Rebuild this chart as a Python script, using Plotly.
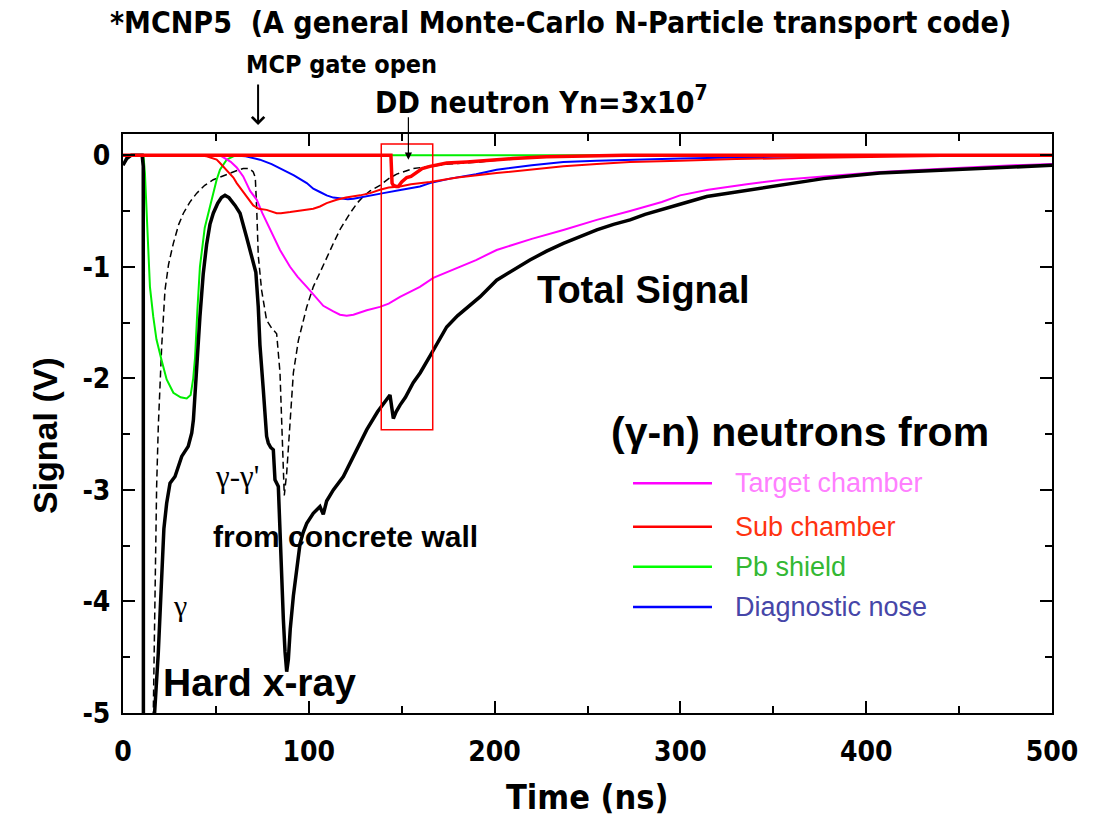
import plotly.graph_objects as go

# ---------------- data (time in ns, signal in V) ----------------
total_t = [0, 2, 4.5, 10.3, 10.9, 11.0, 16.0, 17.0, 19.0, 20.8, 22.0, 23.5, 25.3, 28.0, 31.6, 35.1, 37.0,
           37.9, 38.8, 39.7, 41.4, 43.2, 45.0, 46.8, 48.6, 51.0, 53.0, 54.9, 57.0, 60.3, 63.0, 66.6, 70.1,
           71.5, 72.8, 73.7, 75.5, 76.4, 77.3, 78.2, 79.5, 80.9, 81.8, 83.6, 84.5, 85.4, 86.3, 87.2, 88.1,
           89.0, 90.0, 91.7, 93.5, 95.3, 97.0, 98.9, 102.4, 104.2, 106.0, 107.8, 109.6, 113.2, 118.6,
           122.2, 125.8, 131.2, 137.0, 143.7, 145.5, 147.0, 149.1, 152.0, 156.2, 160.0, 165.2, 170.0,
           174.2, 180.0, 186.0, 192.1, 201.1, 210.0, 219.0, 228.0, 237.0, 246.0, 255.0, 264.0, 272.9,
           281.0, 290.8, 299.8, 314.2, 330.3, 353.6, 376.9, 407.4, 443.3, 479.2, 500.0]
total_v = [-0.09, -0.03, 0.0, 0.0, -0.1, -6.0, -6.0, -5.0, -4.46, -3.72, -3.35, -3.12, -2.94, -2.88, -2.70,
           -2.61, -2.49, -2.37, -2.10, -1.95, -1.45, -1.06, -0.80, -0.62, -0.52, -0.43, -0.38, -0.36, -0.38,
           -0.45, -0.52, -0.74, -0.95, -1.05, -1.36, -1.70, -2.10, -2.37, -2.52, -2.58, -2.62, -2.64, -2.91,
           -2.97, -3.42, -3.92, -4.16, -4.45, -4.63, -4.52, -4.25, -3.95, -3.70, -3.48, -3.38, -3.30, -3.21,
           -3.18, -3.15, -3.22, -3.10, -3.00, -2.88, -2.76, -2.64, -2.46, -2.30, -2.15, -2.36, -2.30, -2.24,
           -2.17, -2.04, -1.95, -1.80, -1.66, -1.54, -1.44, -1.36, -1.27, -1.12, -1.03, -0.94, -0.86, -0.79,
           -0.73, -0.67, -0.62, -0.58, -0.53, -0.48, -0.44, -0.37, -0.33, -0.27, -0.21, -0.16, -0.13, -0.10,
           -0.09]

gamma_t = [0, 11.0, 11.5, 15.3, 16.3, 17.2, 18.1, 19.0, 20.8, 22.6, 24.5, 27.1, 30.0, 32.5, 36.0, 39.7,
           44.0, 48.6, 53.0, 57.6, 61.0, 64.7, 68.0, 70.1, 71.2, 72.0, 72.8, 74.6, 77.3, 80.0, 82.7, 84.5,
           85.4, 86.2, 86.8, 88.1, 89.9, 91.7, 94.4, 98.9, 102.4, 106.0, 108.0, 113.2, 117.0, 122.2, 126.0,
           129.3, 133.0, 138.3, 143.0, 147.3, 156.2, 165.2, 175.0, 192.1, 210.0, 230.0, 260.0, 500.0]
gamma_v = [0, 0, -6.0, -6.0, -5.0, -3.86, -2.97, -2.43, -1.72, -1.21, -0.98, -0.79, -0.62, -0.52, -0.42,
           -0.34, -0.27, -0.22, -0.19, -0.16, -0.14, -0.12, -0.12, -0.15, -0.20, -0.50, -0.90, -1.21, -1.48,
           -1.55, -1.60, -1.95, -2.40, -2.80, -3.05, -2.85, -2.40, -1.95, -1.66, -1.36, -1.18, -1.06, -0.98,
           -0.79, -0.66, -0.52, -0.43, -0.37, -0.32, -0.27, -0.21, -0.17, -0.12, -0.10, -0.08, -0.06, -0.03,
           -0.015, 0, 0]

target_t = [0, 52, 54, 56, 58, 61.2, 64.7, 68.4, 72, 75, 78, 80.9, 84.5, 89.9, 94, 98.9, 103, 107.8,
            113.2, 116.8, 120.4, 124, 131.2, 138.3, 143, 149.1, 155, 159.8, 167, 176, 190, 201.1, 220, 237,
            255, 272.9, 290, 299.8, 315, 335.7, 355, 376.9, 407.4, 443.3, 479.2, 500]
target_v = [0, 0, -0.02, -0.04, -0.06, -0.11, -0.19, -0.32, -0.40, -0.52, -0.62, -0.72, -0.85, -1.00,
            -1.09, -1.18, -1.26, -1.35, -1.40, -1.43, -1.44, -1.43, -1.39, -1.36, -1.33, -1.27, -1.22,
            -1.18, -1.10, -1.04, -0.94, -0.85, -0.75, -0.67, -0.58, -0.50, -0.42, -0.36, -0.31, -0.26,
            -0.22, -0.19, -0.15, -0.12, -0.09, -0.08]

sub_t = [0, 40, 45, 50.4, 52.2, 55.8, 59.4, 61.2, 64, 66.6, 70.1, 73, 77.3, 82.7, 85, 90, 95.3, 98.9,
         102.4, 106, 109.6, 115, 120, 127.6, 133, 138.3, 143, 149.1, 155, 165.2, 180, 201.1, 220, 237,
         255, 272.9, 299.8, 330, 364, 400, 450, 500]
sub_v = [0, 0, -0.01, -0.04, -0.07, -0.14, -0.20, -0.25, -0.31, -0.37, -0.45, -0.48, -0.49, -0.52, -0.52,
         -0.51, -0.50, -0.49, -0.48, -0.46, -0.43, -0.40, -0.38, -0.36, -0.34, -0.31, -0.29, -0.28, -0.26,
         -0.24, -0.20, -0.16, -0.13, -0.10, -0.08, -0.06, -0.05, -0.035, -0.025, -0.015, -0.005, 0]

pb_t = [0, 11, 11.8, 13, 14.5, 16.3, 18, 20.8, 23.5, 27.1, 31, 34.3, 36.4, 37.8, 38.8, 40, 41.4, 44,
        46.8, 50.4, 52.2, 55.8, 59.4, 62, 500]
pb_v = [0, 0, -0.16, -0.60, -1.18, -1.45, -1.65, -1.84, -2.01, -2.13, -2.17, -2.18, -2.15, -2.00, -1.81,
        -1.40, -1.00, -0.65, -0.46, -0.22, -0.13, -0.04, -0.01, 0, 0]

nose_t = [0, 55, 62, 66, 73.7, 80, 86.3, 92, 98.9, 102.4, 106, 109.6, 113.2, 116.8, 121, 124, 127.6, 133,
          140.1, 150, 159.8, 165.2, 176, 190, 201.1, 220, 237, 255, 272.9, 299.8, 350, 400, 450, 500]
nose_v = [0, 0, -0.005, -0.01, -0.04, -0.08, -0.13, -0.18, -0.25, -0.30, -0.33, -0.36, -0.38, -0.39,
          -0.395, -0.39, -0.38, -0.36, -0.34, -0.31, -0.28, -0.25, -0.21, -0.17, -0.13, -0.09, -0.06,
          -0.05, -0.04, -0.03, -0.015, -0.005, 0, 0]

dd_t = [0, 144.2, 144.8, 145.5, 147, 148.2, 150, 152.7, 155, 158, 161, 165.2, 170, 174.2, 185, 192.1,
        200, 210, 228, 255, 270, 500]
dd_v = [0, 0, -0.25, -0.27, -0.28, -0.28, -0.24, -0.20, -0.19, -0.15, -0.12, -0.10, -0.08, -0.07, -0.06,
        -0.05, -0.04, -0.03, -0.015, -0.005, 0, 0]

# DD-neutron time window highlighted on the plot
dd_window_t = [139.0, 166.7]
dd_window_v = [-2.46, 0.10]

legend_names = ["Target chamber", "Sub chamber", "Pb shield", "Diagnostic nose"]
legend_line_colors = ["#ff00ff", "#ff0000", "#00ff00", "#0000ff"]
legend_text_colors = ["#ff80ff", "#ff3310", "#33b833", "#4646a8"]

x_ticks = [0, 100, 200, 300, 400, 500]
y_ticks = [0, -1, -2, -3, -4, -5]

NARROW = "Liberation Sans Narrow, Arial Narrow, DejaVu Sans Condensed, sans-serif"
SANS = "Liberation Sans, Arial, sans-serif"

fig = go.Figure()

fig.add_trace(go.Scatter(x=gamma_t, y=gamma_v, mode="lines",
                         line=dict(color="black", width=1.5, dash="7px,4px"), showlegend=False))
fig.add_trace(go.Scatter(x=pb_t, y=pb_v, mode="lines",
                         line=dict(color="#00ee00", width=2), showlegend=False))
fig.add_trace(go.Scatter(x=nose_t, y=nose_v, mode="lines",
                         line=dict(color="#0000ff", width=2), showlegend=False))
fig.add_trace(go.Scatter(x=target_t, y=target_v, mode="lines",
                         line=dict(color="#ff00ff", width=2), showlegend=False))
fig.add_trace(go.Scatter(x=sub_t, y=sub_v, mode="lines",
                         line=dict(color="#ff0000", width=2), showlegend=False))
fig.add_trace(go.Scatter(x=total_t, y=total_v, mode="lines",
                         line=dict(color="black", width=3.5), showlegend=False))
fig.add_trace(go.Scatter(x=dd_t, y=dd_v, mode="lines",
                         line=dict(color="#ff0000", width=3.5), showlegend=False))

# DD window box
fig.add_shape(type="rect", xref="x", yref="y",
              x0=dd_window_t[0], x1=dd_window_t[1], y0=dd_window_v[0], y1=dd_window_v[1],
              line=dict(color="#ff0000", width=1.5), fillcolor="rgba(0,0,0,0)")

annotations = [
    dict(text="<b>*MCNP5  (A general Monte-Carlo N-Particle transport code)</b>", xref="paper",
         yref="paper", x=0.4704, y=1.1934, showarrow=False,
         font=dict(family=NARROW, size=30, color="black"), xanchor="center", yanchor="middle"),
    dict(text="<b>MCP gate open</b>", xref="paper", yref="paper", x=0.2347, y=1.1192, showarrow=False,
         font=dict(family=NARROW, size=25, color="black"), xanchor="center", yanchor="middle"),
    dict(text="<b>DD neutron Yn=3x10<sup>7</sup></b>", xref="paper", yref="paper", x=0.45, y=1.058,
         showarrow=False, font=dict(family=NARROW, size=30, color="black"), xanchor="center",
         yanchor="middle"),
    # arrows
    dict(text="", xref="x", yref="paper", x=72.7, y=1.0155, ax=0, ay=-42, showarrow=True,
         arrowhead=4, arrowsize=1.2, arrowwidth=2, arrowcolor="black"),
    dict(text="", xref="x", yref="y", x=153.6, y=-0.04, ax=0, ay=-44, showarrow=True,
         arrowhead=2, arrowsize=1.2, arrowwidth=1.2, arrowcolor="black"),
    dict(text="<b>Total Signal</b>", xref="x", yref="y", x=280.4, y=-1.21, showarrow=False,
         font=dict(family=SANS, size=38, color="black")),
    dict(text="<b>(γ-n) neutrons from</b>", xref="x", yref="y", x=364.4, y=-2.48, showarrow=False,
         font=dict(family=SANS, size=41, color="black")),
    dict(text="γ-γ'", xref="x", yref="y", x=61.4, y=-2.88, showarrow=False,
         font=dict(family="Liberation Serif, serif", size=31, color="black")),
    dict(text="<b>from concrete wall</b>", xref="x", yref="y", x=119.5, y=-3.42, showarrow=False,
         font=dict(family=SANS, size=30, color="black")),
    dict(text="γ", xref="x", yref="y", x=30.7, y=-4.04, showarrow=False,
         font=dict(family="Liberation Serif, serif", size=30, color="black")),
    dict(text="<b>Hard x-ray</b>", xref="x", yref="y", x=73.7, y=-4.73, showarrow=False,
         font=dict(family=SANS, size=39, color="black")),
    dict(text="<b>Signal (V)</b>", xref="paper", yref="paper", x=-0.084, y=0.48, showarrow=False,
         textangle=-90, font=dict(family=SANS, size=34, color="black"), xanchor="center",
         yanchor="middle"),
    dict(text="<b>Time (ns)</b>", xref="paper", yref="paper", x=0.4995, y=-0.145, showarrow=False,
         font=dict(family=NARROW, size=34, color="black"), xanchor="center", yanchor="middle"),
]

# hand-drawn legend block
legend_rows_y = [-2.94, -3.33, -3.69, -4.05]
for name, lc, tc, ly in zip(legend_names, legend_line_colors, legend_text_colors, legend_rows_y):
    fig.add_shape(type="line", xref="x", yref="y", x0=274.5, x1=317.0, y0=ly, y1=ly,
                  line=dict(color=lc, width=2.5))
    annotations.append(dict(text=name, xref="x", yref="y", x=328.3, y=ly, showarrow=False,
                            xanchor="left", yanchor="middle",
                            font=dict(family=SANS, size=27, color=tc)))

fig.update_layout(
    width=1097, height=816,
    margin=dict(l=123, r=45, t=134, b=103),
    paper_bgcolor="white", plot_bgcolor="white",
    showlegend=False,
    annotations=annotations,
)

axis_common = dict(showline=True, linecolor="black", linewidth=2, mirror="ticks", ticks="inside",
                   tickcolor="black", tickwidth=2, ticklen=12, showgrid=False, zeroline=False,
                   tickfont=dict(family=NARROW, size=28, color="black"))
fig.update_xaxes(range=[0, 500], tickvals=x_ticks, ticktext=[f"<b>{v}</b>" for v in x_ticks],
                 minor=dict(dtick=50, ticks="inside", ticklen=7, tickwidth=1.5, tickcolor="black"),
                 ticklabelstandoff=12, **axis_common)
fig.update_yaxes(range=[-5, 0.19], tickvals=y_ticks, ticktext=[f"<b>{v}</b>" for v in y_ticks],
                 minor=dict(dtick=0.5, ticks="inside", ticklen=7, tickwidth=1.5, tickcolor="black"),
                 ticklabelstandoff=5, **axis_common)

fig.write_html("out.html")
